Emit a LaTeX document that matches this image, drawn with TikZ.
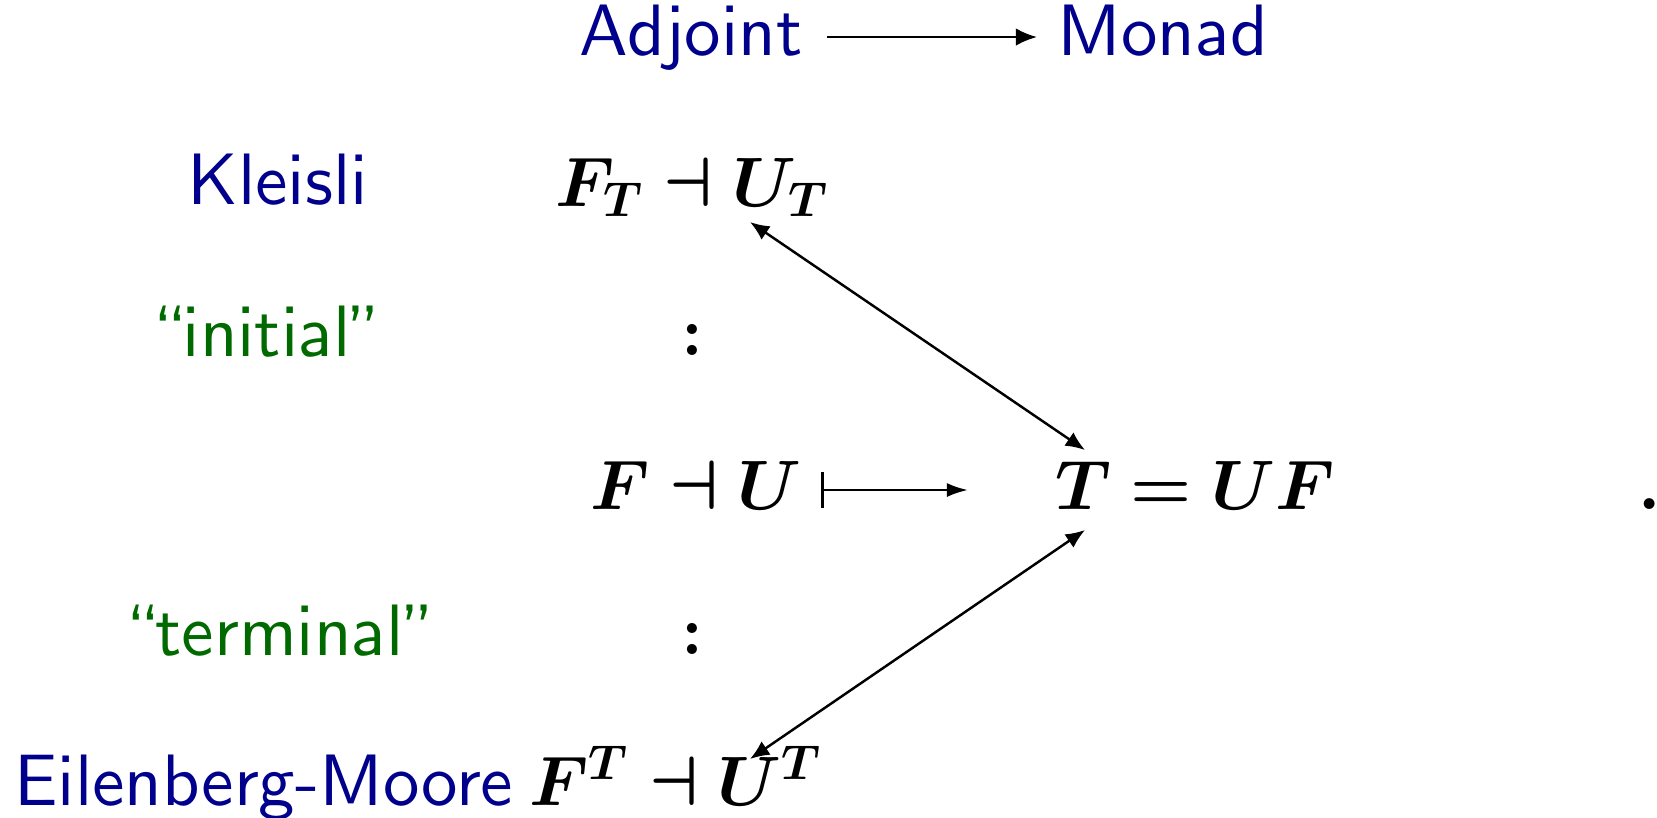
\documentclass[tikz,border=0pt]{standalone}
\usepackage{fix-cm}
\usepackage{amsmath,bm}
\usetikzlibrary{arrows.meta}
\definecolor{navy}{RGB}{0,0,140}
\definecolor{dgreen}{RGB}{0,105,0}
\font\labfont=cmss10 at 20.7pt
\begin{document}
\begin{tikzpicture}[x=0.01cm,y=-0.01cm,
  lab/.style={anchor=base,inner sep=0pt,font=\labfont},
  blab/.style={lab,text=navy},
  glab/.style={lab,text=dgreen},
  mth/.style={anchor=base,inner sep=0pt,font=\fontsize{19.9}{24}\selectfont},
  conn/.style={line width=0.7pt,{Latex[length=5.5pt,width=4.6pt]}-{Latex[length=5.5pt,width=4.6pt]}},
  one/.style={line width=0.75pt,-{Latex[length=6pt,width=5pt]}},
  mapsto/.style={line width=0.75pt,{Bar[width=10.2pt]}-{Latex[length=6pt,width=4pt]}}]
\useasboundingbox (0,0) rectangle (1657,817);
% top row
\node[blab] (adj) at (691,55) {Adjoint};
\node[blab] (mon) at (1163,55) {Monad};
\coordinate (a1) at (827,37);
\coordinate (a2) at (1037,37);
\draw[one] (a1) -- (a2);
% Kleisli
\node[blab] (kl) at (278,204) {Kleisli};
\node[mth] (kt) at (692,206) {$\boldsymbol{F_T \dashv U_T}$};
% initial
\node[glab] (ini) at (267,356) {``initial''};
\node[mth] (c1) at (692,355) {$\boldsymbol{:}$};
% middle
\node[mth] (fu) at (696,509) {$\boldsymbol{F \dashv U}$};
\node[mth] (tuf) at (1195,509) {$\boldsymbol{T = UF}$};
\node[mth] (dot) at (1650,509) {$\boldsymbol{.}$};
\coordinate (m1) at (821,490);
\coordinate (m2) at (968,490);
\draw[mapsto] (m1) -- (m2);
% terminal
\node[glab] (ter) at (280,655) {``terminal''};
\node[mth] (c2) at (692,654) {$\boldsymbol{:}$};
% EM
\node[blab] (em) at (264,805) {Eilenberg-Moore};
\node[mth] (et) at (676,805) {$\boldsymbol{F^T \dashv U^T}$};
% connectors
\coordinate (ut) at (750,222);
\coordinate (tt) at (1085,450);
\coordinate (tb) at (1085,530);
\coordinate (ub) at (750,759);
\draw[conn] (ut) -- (tt);
\draw[conn] (tb) -- (ub);
\end{tikzpicture}
\end{document}
